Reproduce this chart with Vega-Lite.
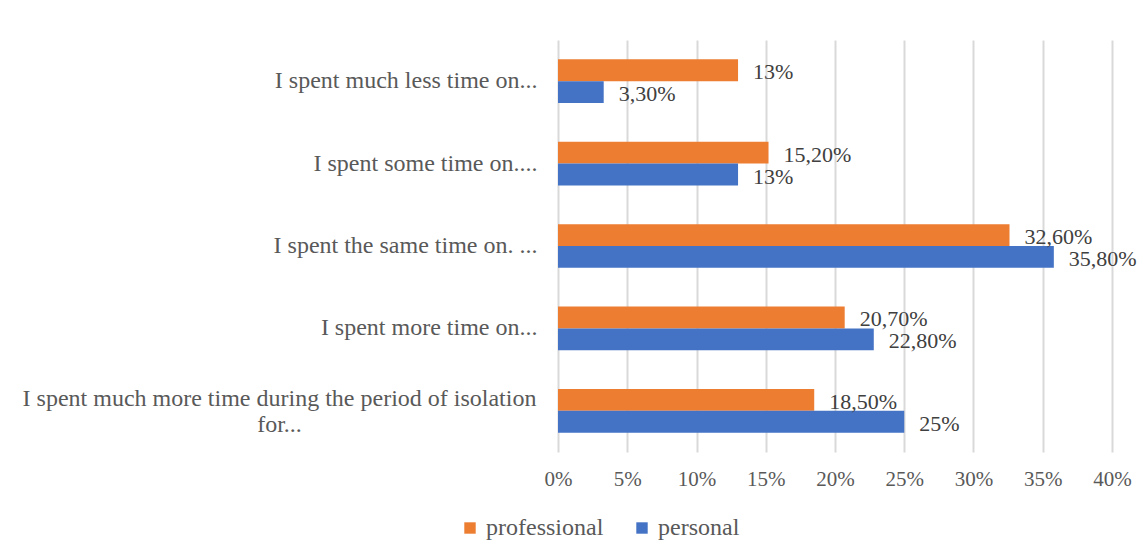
{
  "$schema": "https://vega.github.io/schema/vega-lite/v6.json",
  "width": 554,
  "height": 412,
  "padding": {"left": 22, "top": 40, "right": 5, "bottom": 5},
  "background": "white",
  "config": {
    "view": {"stroke": null},
    "font": "Liberation Serif",
    "axis": {"labelFont": "Liberation Serif", "labelFontSize": 21, "labelColor": "#595959"},
    "legend": {"labelFont": "Liberation Serif", "labelFontSize": 24, "labelColor": "#595959"}
  },
  "data": {
    "values": [
      {"category": "I spent much less time on...", "series": "professional", "value": 0.13, "label": "13%"},
      {"category": "I spent much less time on...", "series": "personal", "value": 0.033, "label": "3,30%"},
      {"category": "I spent some time on....", "series": "professional", "value": 0.152, "label": "15,20%"},
      {"category": "I spent some time on....", "series": "personal", "value": 0.13, "label": "13%"},
      {"category": "I spent the same time on. ...", "series": "professional", "value": 0.326, "label": "32,60%"},
      {"category": "I spent the same time on. ...", "series": "personal", "value": 0.358, "label": "35,80%"},
      {"category": "I spent more time on...", "series": "professional", "value": 0.207, "label": "20,70%"},
      {"category": "I spent more time on...", "series": "personal", "value": 0.228, "label": "22,80%"},
      {"category": "I spent much more time during the period of isolation for...", "series": "professional", "value": 0.185, "label": "18,50%"},
      {"category": "I spent much more time during the period of isolation for...", "series": "personal", "value": 0.25, "label": "25%"}
    ]
  },
  "encoding": {
    "y": {
      "field": "category",
      "type": "nominal",
      "sort": null,
      "scale": {"paddingInner": 0.47, "paddingOuter": 0.235},
      "axis": {
        "title": null,
        "ticks": false,
        "domain": false,
        "labelPadding": {"condition": {"test": "datum.value == 'I spent much more time during the period of isolation for...'", "value": 279}, "value": 21},
        "labelAlign": {"condition": {"test": "datum.value == 'I spent much more time during the period of isolation for...'", "value": "center"}, "value": "right"},
        "labelOffset": {"condition": {"test": "datum.value == 'I spent much more time during the period of isolation for...'", "value": -12}, "value": 0},
        "labelLimit": 700,
        "labelFontSize": 24,
        "labelLineHeight": 26,
        "labelExpr": "datum.value == 'I spent much more time during the period of isolation for...' ? ['I spent much more time during the period of isolation', 'for...'] : datum.value"
      }
    },
    "yOffset": {"field": "series", "type": "nominal", "sort": ["professional", "personal"], "scale": {"paddingInner": 0, "paddingOuter": 0}},
    "x": {
      "field": "value",
      "type": "quantitative",
      "scale": {"domain": [0, 0.4], "nice": false},
      "axis": {
        "title": null,
        "format": ".0%",
        "values": [0, 0.05, 0.1, 0.15, 0.2, 0.25, 0.3, 0.35, 0.4],
        "ticks": false,
        "domain": false,
        "grid": true,
        "gridColor": "#d9d9d9",
        "gridWidth": 2,
        "labelFlush": false,
        "labelPadding": 16
      }
    }
  },
  "layer": [
    {
      "mark": {"type": "bar"},
      "encoding": {
        "color": {
          "field": "series",
          "type": "nominal",
          "scale": {"domain": ["professional", "personal"], "range": ["#ED7D31", "#4472C4"]},
          "legend": {
            "title": null,
            "orient": "none",
            "direction": "horizontal",
            "legendX": -100,
            "legendY": 476,
            "symbolType": "square",
            "symbolSize": 130,
            "symbolStrokeWidth": 0,
            "labelOffset": 4,
            "columnPadding": 26
          }
        }
      }
    },
    {
      "mark": {"type": "text", "align": "left", "baseline": "middle", "dx": 15, "dy": 2, "fontSize": 22, "color": "#404040", "font": "Liberation Serif"},
      "encoding": {"text": {"field": "label"}}
    }
  ]
}
